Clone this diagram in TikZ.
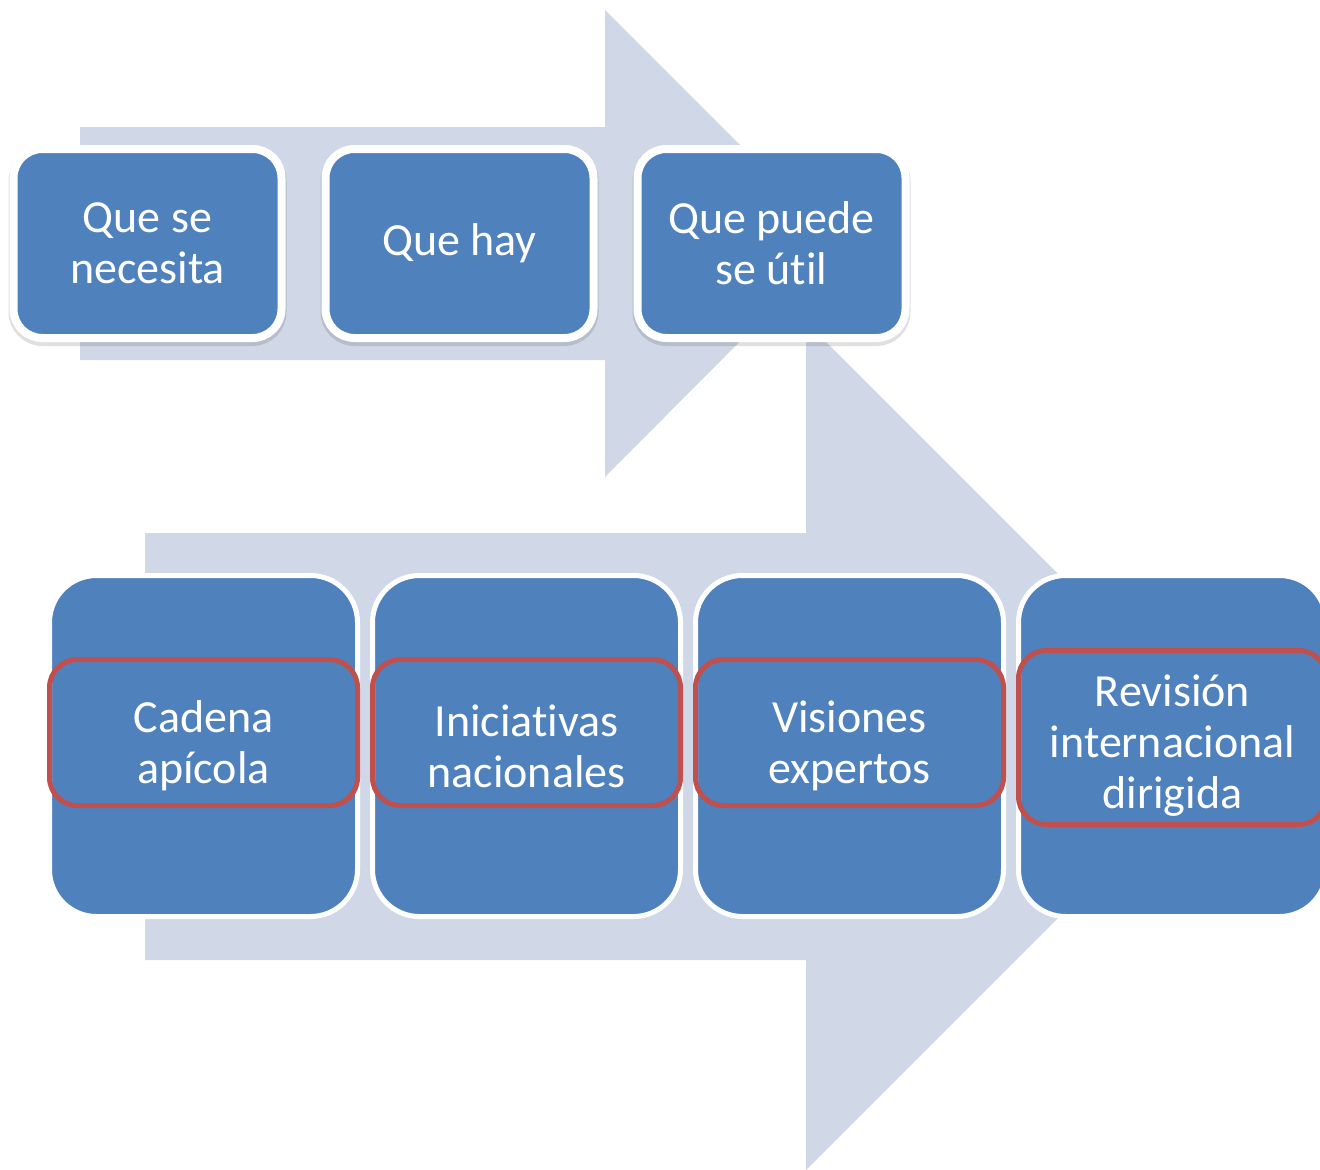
\documentclass[tikz,border=0pt]{standalone}
\usepackage{fontspec}
\setmainfont{Carlito}
\usepackage{tikz}
\usetikzlibrary{shapes, positioning, shadows}

\definecolor{boxblue}{HTML}{4F81BD}
\definecolor{bandgray}{HTML}{D0D8E8}
\definecolor{framered}{HTML}{C0504D}

% keeps t and i apart (no ligature)
\newcommand{\tisep}{t\kern0pt i}

\begin{document}
\begin{tikzpicture}[x=1pt, y=-1pt]
	\tikzstyle{band} = [fill=bandgray]
	\tikzstyle{format} = [draw=white, fill=boxblue, text=white, align=center, inner sep=0pt, outer sep=0pt, font=\fontsize{46}{51}\selectfont]
	\tikzstyle{upper} = [format, line width=8pt, rounded corners=29pt, minimum width=268pt, minimum height=189pt, general shadow={fill=black, draw=black, line width=10pt, opacity=0.12, shadow yshift=-3pt}]
	\tikzstyle{lower} = [format, line width=5pt, rounded corners=47pt, minimum width=308pt, minimum height=341pt]
	\tikzstyle{frame} = [draw=framered, line width=5pt, rounded corners=28pt, minimum width=308pt, minimum height=146pt, inner sep=0pt, outer sep=0pt]

	\useasboundingbox (0,0) rectangle (1320,1170);

	% the two broad arrows behind
	\fill[band] (80,127) -- (605,127) -- (605,10) -- (838,243) -- (605,477) -- (605,360) -- (80,360) -- cycle;
	\fill[band] (145,533) -- (806,533) -- (806,322) -- (1230,746) -- (806,1170) -- (806,960) -- (145,960) -- cycle;

	\begin{scope}[node distance=44pt]
		\path
			node[upper] (1) at (147.5,243.5) {Que se\\necesita}
			node[upper, right=of 1] (2) {Que hay}
			node[upper, right=of 2] (3) {Que puede\\se ú\tisep l}
		;
	\end{scope}

	\begin{scope}[node distance=15pt]
		\path
			node[lower] (4) at (203.5,746) {Cadena\\apícola}
			node[lower, right=of 4] (5) {Inicia\tisep vas\\nacionales}
			node[lower, right=of 5] (6) {Visiones\\expertos}
			node[lower, right=of 6] (7) {Revisión\\internacional\\dirigida}

			node[frame] (r4) at ([yshift=13.5pt]4.center) {}
			node[frame] (r5) at ([yshift=13.5pt]5.center) {}
			node[frame] (r6) at ([yshift=13.5pt]6.center) {}
			node[frame, minimum height=174pt] (r7) at ([yshift=8.5pt]7.center) {}
		;
	\end{scope}
\end{tikzpicture}
\end{document}
